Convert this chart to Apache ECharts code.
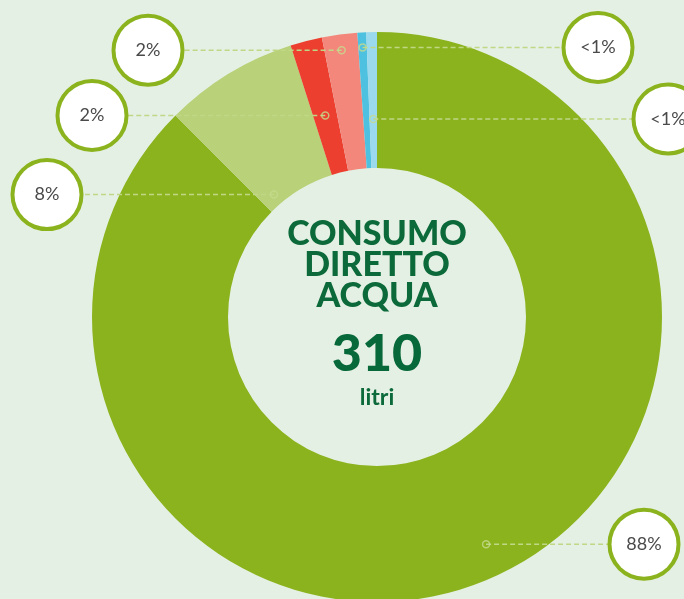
<!DOCTYPE html>
<html>
<head>
<meta charset="utf-8">
<script src="https://cdn.jsdelivr.net/npm/echarts@6/dist/echarts.min.js"></script>
<style>
  html, body { margin: 0; padding: 0; background: #e5f0e4; }
  #chart { width: 684px; height: 599px; }
</style>
</head>
<body>
<div id="chart"></div>
<script>
// Breakdown of direct water consumption (share of total, %)
const categories = ['Voce 1', 'Voce 2', 'Voce 3', 'Voce 4', 'Voce 5', 'Voce 6'];
const shares = [87.5, 7.6, 1.8, 2.0, 0.5, 0.6];
const totalLitres = 310;
const titleLines = ['CONSUMO', 'DIRETTO', 'ACQUA'];
const unitLabel = 'litri';

// Slice colours
const sliceColors = ['#8bb31d', '#b9d178', '#ec3f2f', '#f4877c', '#4fc1e0', '#9bd9ee'];

// Callout layout: bubble centre x (px), anchor radius (px), anchor position along the slice (0..1)
const calloutX = [644, 47, 92, 148, 598, 668];
const anchorRadius = [252, 160, 208, 269, 270, 198];
const anchorAlong = [0.49, 0.18, 0.5, 0.5, 0.5, 0.5];

const CX = 377, CY = 317, R_IN = 149, R_OUT = 285;
const total = shares.reduce((a, b) => a + b, 0);

function anchorValue(i) {
  let cum = 0;
  for (let k = 0; k < i; k++) cum += shares[k];
  return cum + anchorAlong[i] * shares[i];
}
function anchorPoint(i) {
  const a = anchorValue(i) / total * 2 * Math.PI;
  return [CX + anchorRadius[i] * Math.sin(a), CY - anchorRadius[i] * Math.cos(a)];
}

const BUBBLE = 65;
const GREEN = '#8bb31d';
const LINE = '#c0d886';
const TEXT_DARK = '#0c6a3a';

const pieBase = {
  type: 'pie',
  center: [CX, CY],
  radius: [R_IN, R_OUT],
  startAngle: 90,
  clockwise: true,
  avoidLabelOverlap: false,
  silent: true
};

const chart = echarts.init(document.getElementById('chart'));
chart.setOption({
  backgroundColor: '#e5f0e4',
  animation: false,
  title: [
    {
      text: titleLines.join('\n'),
      left: CX, top: 219, textAlign: 'center', padding: 0,
      textStyle: { fontFamily: 'Lato', fontWeight: 900, fontSize: 34, lineHeight: 31, color: TEXT_DARK }
    },
    {
      text: String(totalLitres),
      left: CX, top: 328, textAlign: 'center', padding: 0,
      textStyle: { fontFamily: 'Lato', fontWeight: 900, fontSize: 52, lineHeight: 52, color: '#07683a' }
    },
    {
      text: unitLabel,
      left: CX, top: 385, textAlign: 'center', padding: 0,
      textStyle: { fontFamily: 'Lato', fontWeight: 'bold', fontSize: 23, lineHeight: 26, color: TEXT_DARK }
    }
  ],
  polar: { center: [CX, CY], radius: R_OUT },
  angleAxis: {
    type: 'value', min: 0, max: total, startAngle: 90, clockwise: true,
    axisLine: { show: false }, axisTick: { show: false }, axisLabel: { show: false }, splitLine: { show: false }
  },
  radiusAxis: {
    type: 'value', min: 0, max: R_OUT,
    axisLine: { show: false }, axisTick: { show: false }, axisLabel: { show: false }, splitLine: { show: false }
  },
  series: [
    // visible ring
    Object.assign({}, pieBase, {
      z: 2,
      data: shares.map((v, i) => ({ name: categories[i], value: v, itemStyle: { color: sliceColors[i] } })),
      label: { show: false },
      labelLine: { show: false }
    }),
    // callout bubbles and dashed leaders, drawn above the ring
    Object.assign({}, pieBase, {
      z: 3,
      data: shares.map((v, i) => ({ name: categories[i], value: v, itemStyle: { color: 'rgba(0,0,0,0)' } })),
      label: {
        show: true,
        formatter: p => (p.value < 1 ? '<1' : Math.round(p.value)) + '%',
        fontFamily: 'Lato',
        fontSize: 18,
        color: '#4a4a4a',
        backgroundColor: '#ffffff',
        borderColor: GREEN,
        borderWidth: 4,
        borderRadius: BUBBLE,
        width: BUBBLE,
        height: BUBBLE,
        lineHeight: BUBBLE,
        padding: 0,
        align: 'center',
        verticalAlign: 'middle'
      },
      labelLine: {
        show: true,
        lineStyle: { color: LINE, width: 1.5, type: [5, 3] }
      },
      labelLayout: params => {
        const i = params.dataIndex;
        const [ax, ay] = anchorPoint(i);
        const bx = calloutX[i];
        const edge = bx > ax ? bx - BUBBLE / 2 - 2 : bx + BUBBLE / 2 + 2;
        return {
          x: bx, y: ay, align: 'center', verticalAlign: 'middle',
          labelLinePoints: [[ax, ay], [(ax + edge) / 2, ay], [edge, ay]]
        };
      }
    }),
    {
      type: 'scatter',
      coordinateSystem: 'polar',
      silent: true,
      z: 5,
      symbol: 'circle',
      symbolSize: 7,
      itemStyle: { color: 'rgba(0,0,0,0)', borderColor: '#c6db8d', borderWidth: 1.5 },
      data: shares.map((v, i) => [anchorRadius[i], anchorValue(i)])
    }
  ]
});
</script>
</body>
</html>
